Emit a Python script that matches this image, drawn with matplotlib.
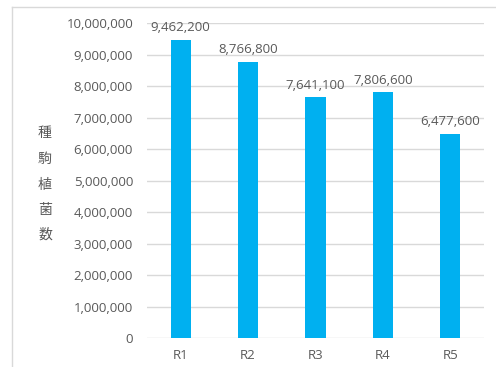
import matplotlib
matplotlib.use("Agg")
import matplotlib.pyplot as plt
from matplotlib.ticker import FuncFormatter, MultipleLocator

categories = ["R1", "R2", "R3", "R4", "R5"]
values = [9462200, 8766800, 7641100, 7806600, 6477600]
ylabel_chars = ["種", "駒", "植", "菌", "数"]

W, H = 496, 367
fig = plt.figure(figsize=(W / 100, H / 100), dpi=100)
fig.patch.set_facecolor("white")

# outer chart border (light gray)
fig.add_artist(plt.Line2D([12 / W, 12 / W], [0, 1 - 7 / H], transform=fig.transFigure,
                          color="#D9D9D9", lw=1))
fig.add_artist(plt.Line2D([12 / W, 1], [1 - 7 / H, 1 - 7 / H], transform=fig.transFigure,
                          color="#D9D9D9", lw=1))

left, right, top, bottom = 147, 484, 23, 338
ax = fig.add_axes([left / W, 1 - bottom / H, (right - left) / W, (bottom - top) / H])

text_color = "#595959"
font = ["Open Sans", "Noto Sans CJK JP", "DejaVu Sans"]
fs = 9.5

x = range(len(categories))
ax.bar(x, values, width=0.3, color="#00B0F0", zorder=3)
ax.set_xlim(-0.5, len(categories) - 0.5)
ax.set_ylim(0, 10000000)
ax.yaxis.set_major_locator(MultipleLocator(1000000))
ax.yaxis.set_major_formatter(FuncFormatter(lambda v, p: f"{int(v):,}"))
ax.set_xticks(list(x))
ax.set_xticklabels(categories)

ax.grid(axis="y", color="#D9D9D9", lw=1, zorder=0)
for s in ax.spines.values():
    s.set_visible(False)
ax.tick_params(axis="both", length=0, colors=text_color, labelsize=fs)
ax.tick_params(axis="y", pad=10)
ax.tick_params(axis="x", pad=8)
for lab in ax.get_xticklabels() + ax.get_yticklabels():
    lab.set_fontfamily(font)

for xi, v in zip(x, values):
    ax.annotate(f"{v:,}", (xi, v), xytext=(0, 4), textcoords="offset points",
                ha="center", va="bottom", color=text_color, fontsize=fs, family=font)

# vertical stacked y-axis label
ys = [133, 159, 185, 210, 235]
for ch, yy in zip(ylabel_chars, ys):
    fig.text(45 / W, 1 - yy / H, ch, ha="center", va="center", color=text_color,
             fontsize=10, family=["Noto Sans CJK JP", "DejaVu Sans"])

fig.savefig("out.png", dpi=100, facecolor="white")
